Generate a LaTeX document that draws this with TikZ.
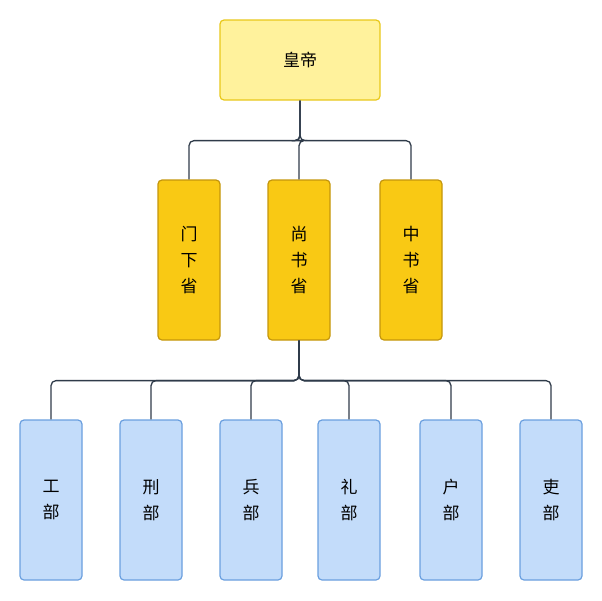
\documentclass[tikz,border=0pt]{standalone}
\usepackage{fontspec}
\setmainfont{Noto Sans CJK SC}
\usetikzlibrary{calc}
\definecolor{empf}{HTML}{FFF29C}\definecolor{empd}{HTML}{E8C81A}
\definecolor{shf}{HTML}{F9C914}\definecolor{shd}{HTML}{C4960C}
\definecolor{bf}{HTML}{C3DCFA}\definecolor{bd}{HTML}{6A9FDF}
\definecolor{ln}{HTML}{2F3B4A}
\tikzset{
 boxbase/.style={rounded corners=4pt,line width=1.2pt,inner sep=0pt,font=\fontsize{17}{26}\selectfont,align=center},
 emp/.style={boxbase,fill=empf,draw=empd,minimum width=160pt,minimum height=80pt},
 sheng/.style={boxbase,fill=shf,draw=shd,minimum width=62pt,minimum height=160pt},
 bu/.style={boxbase,fill=bf,draw=bd,minimum width=62pt,minimum height=160pt},
 conn/.style={draw=ln,line width=1.3pt,rounded corners=5pt}
}
\begin{document}
\begin{tikzpicture}[x=1pt,y=-1pt]
\useasboundingbox (0,0) rectangle (602,600);
\node[emp] (e) at (300,60) {皇帝};
\node[sheng] (m) at (189,260) {门\\下\\省};
\node[sheng] (s) at (299,260) {尚\\书\\省};
\node[sheng] (z) at (411,260) {中\\书\\省};
\node[bu] (b1) at (51,500) {工\\部};
\node[bu] (b2) at (151,500) {刑\\部};
\node[bu] (b3) at (251,500) {兵\\部};
\node[bu] (b4) at (349,500) {礼\\部};
\node[bu] (b5) at (451,500) {户\\部};
\node[bu] (b6) at (551,500) {吏\\部};
\foreach \t in {m,s,z} \draw[conn] (e.south) -- ++(0,40) -| (\t.north);
\foreach \t in {b1,b2,b3,b4,b5,b6} \draw[conn] (s.south) -- ++(0,40) -| (\t.north);
\end{tikzpicture}
\end{document}
